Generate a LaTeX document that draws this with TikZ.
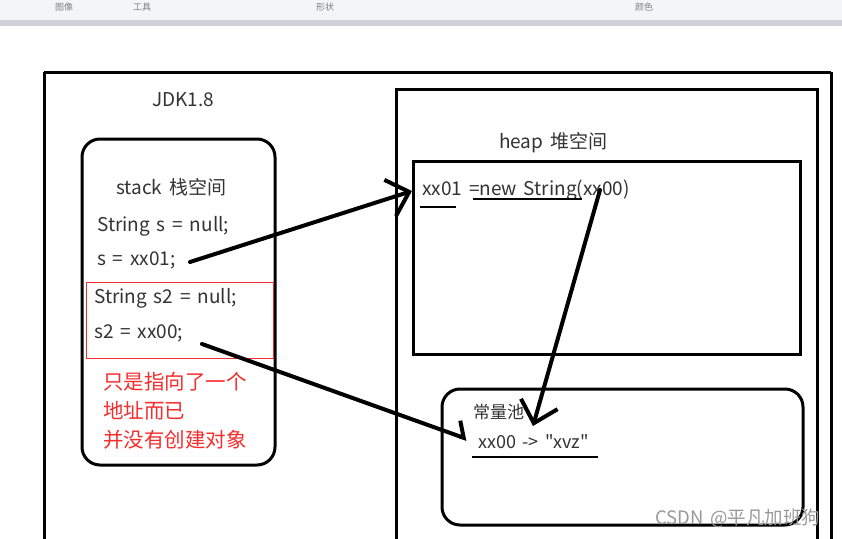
\documentclass[tikz,border=0pt]{standalone}
\usepackage{fontspec}
\setmainfont{Noto Sans CJK SC}[WordSpace=1.6]
\usepackage{tikz}
\usetikzlibrary{arrows.meta,positioning}
\definecolor{notered}{RGB}{245,45,45}
\definecolor{barbg}{RGB}{244,245,248}
\definecolor{barline}{RGB}{208,210,216}
\tikzstyle{frame}    = [line width=3pt]
\tikzstyle{code}     = [anchor=west, inner sep=0pt, font=\fontsize{19}{21}\selectfont, text=black!80]
\tikzstyle{note}     = [anchor=west, inner sep=0pt, font=\fontsize{20.5}{22}\selectfont, text=notered]
\tikzstyle{tool}     = [inner sep=0pt, font=\fontsize{9}{10}\selectfont, text=black!50]
\tikzstyle{arrow}    = [line width=4pt, line cap=round, -{Straight Barb[length=20pt,width=38pt]}]

\begin{document}
\begin{tikzpicture}[x=1pt,y=-1pt]
		\useasboundingbox (0,0) rectangle (842,538);
		\fill[white] (0,0) rectangle (842,538);

		% toolbar of the screenshot
		\fill[barbg] (0,0) rectangle (842,20);
		\fill[barline] (0,20) rectangle (842,26);
		\node[tool] (tb1) at (64,7) {图像};
		\node[tool] (tb2) at (142,7) {工具};
		\node[tool] (tb3) at (325,7) {形状};
		\node[tool] (tb4) at (644,7) {颜色};

		% JDK frame
		\draw[frame] (44,72) -- (831,72);
		\draw[frame] (44,72) -- (44,545);
		\draw[frame] (831,72) -- (831,545);
		\node[code] (jdk) at (152,100) {JDK1.8};

		% stack
		\draw[frame, rounded corners=18pt] (82,139) rectangle (275,465);
		\node[code] (stack) at (116,187) {stack 栈空间};
		\node[code] (s1) at (97,226) {String s = null;};
		\node[code] (s2) at (97,260) {s = xx01;};
		\draw[notered, line width=0.6pt] (86,282) rectangle (273,358);
		\node[code] (s3) at (94,298) {String s2 = null;};
		\node[code] (s4) at (94,333) {s2 = xx00;};
		\node[note] (n1) at (103,382) {只是指向了一个};
		\node[note] (n2) at (103,411) {地址而已};
		\node[note] (n3) at (103,440) {并没有创建对象};

		% heap
		\draw[frame] (396,545) -- (396,89) -- (817,89) -- (817,545);
		\node[code] (heap) at (499,143) {heap 堆空间};
		\draw[frame] (413,161) rectangle (800,354);
		\node[code] (obj) at (422,190) {xx01 =new String(xx00)};
		\draw[line width=2.5pt] (420,207) -- (456,207);
		\draw[line width=2.5pt] (473,199) -- (582,199);

		% constant pool
		\draw[frame, rounded corners=18pt] (442,389) rectangle (803,525);
		\node[code, font=\fontsize{17}{19}\selectfont] (pool) at (473,412) {常量池};
		\node[code, font=\fontsize{18}{20}\selectfont] (str) at (478,442) {xx00 -> \textquotedbl xvz\textquotedbl};
		\draw[line width=2.5pt] (472,457) -- (598,457);

		% references
		\coordinate (f1) at (190,262);
		\coordinate (t1) at (412,191);
		\coordinate (f2) at (600,190);
		\coordinate (t2) at (533,426);
		\coordinate (f3) at (202,344);
		\coordinate (t3) at (467,439);
		\draw[arrow] (f1) -- (t1);
		\draw[arrow] (f2) -- (t2);
		\draw[line width=4pt, line cap=round, -{Straight Barb[left,length=9pt,width=30pt]}] (f3) -- (t3);

		% watermark
		\node[anchor=west, inner sep=0pt, font=\fontsize{18.5}{20}\selectfont, text=black!40] (wm) at (655,518) {CSDN @平凡加班狗};
	\end{tikzpicture}
\end{document}
